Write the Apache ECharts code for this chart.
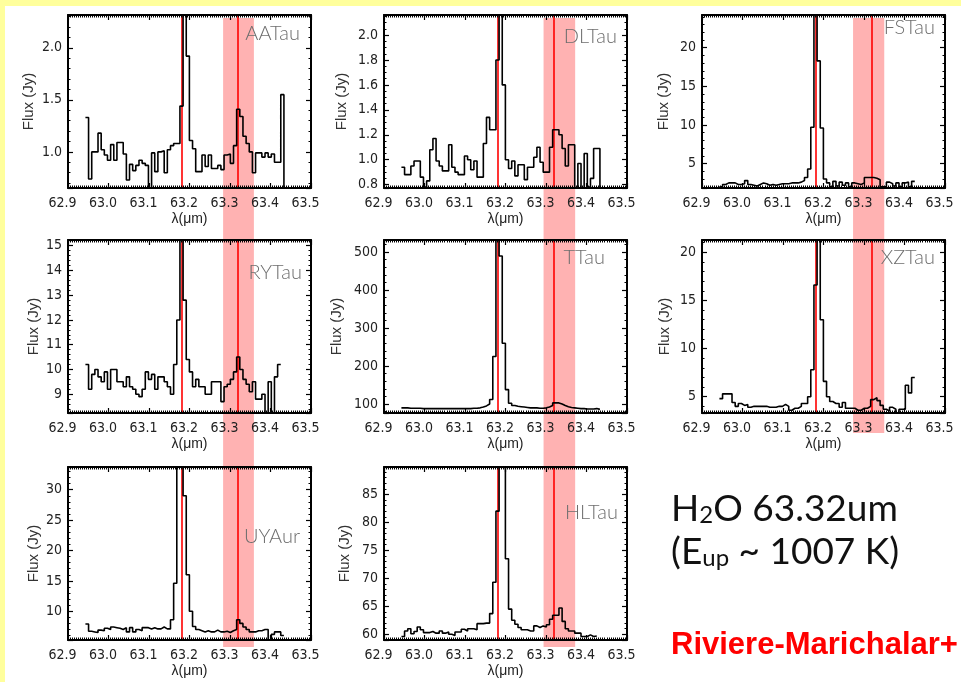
<!DOCTYPE html>
<html><head><meta charset="utf-8">
<script src="https://cdn.jsdelivr.net/npm/echarts@6/dist/echarts.min.js"></script>
<style>html,body{margin:0;padding:0;background:#fff;}#c{width:961px;height:682px;}</style>
</head><body><div id="c"></div>
<script>
// ---------------- DATA ----------------
const sources = ['AATau', 'DLTau', 'FSTau', 'RYTau', 'TTau', 'XZTau', 'UYAur', 'HLTau'];
const lambdaStart = 62.943;   // first bin edge (um)
const binWidth = 0.00778;     // spectral bin width (um)
const xMin = 62.9, xMax = 63.5, xStep = 0.1;
const lineCenters = [63.18, 63.32];          // [OI] 63.18 and H2O 63.32 markers
const bandRanges = [[63.283, 63.359], [63.294, 63.372], [63.273, 63.350]]; // shaded band per column

const fluxAATau = [1.33, 0.74, 1.00, 1.00, 1.18, 1.02, 0.97, 0.92, 1.07, 0.92,
  1.09, 1.09, 0.98, 0.73, 0.88, 0.82, 0.87, 0.92, 0.89, 0.87,
  0.60, 0.99, 0.81, 1.00, 1.01, 0.80, 1.02, 1.06, 1.08, 1.08,
  1.44, 2.60, 1.92, 1.11, 1.03, 0.81, 0.81, 0.97, 0.86, 0.97,
  0.84, 0.84, 0.87, 0.83, 0.97, 0.98, 0.89, 1.06, 1.41, 1.34,
  1.15, 1.08, 1.00, 0.80, 0.99, 0.99, 0.95, 0.99, 0.95, 0.98,
  0.90, 0.90, 1.55, 0.50];
const fluxDLTau = [0.94, 0.88, 0.88, 0.95, 0.99, 0.99, 0.86, 0.78, 0.83, 1.08,
  1.17, 0.99, 0.95, 0.91, 0.91, 1.12, 0.94, 0.90, 0.88, 0.88,
  1.03, 1.00, 0.92, 0.99, 0.86, 0.86, 1.13, 1.34, 1.24, 1.24,
  1.80, 2.40, 1.60, 1.00, 0.93, 0.99, 0.87, 0.96, 0.96, 0.84,
  0.94, 0.94, 1.02, 1.10, 0.98, 0.90, 0.90, 1.10, 1.24, 1.24,
  1.20, 1.09, 0.95, 1.12, 1.12, 0.75, 0.97, 0.76, 1.05, 0.78,
  0.85, 1.09, 1.09, 0.70];
const fluxFSTau = [2.0, 2.3, 2.5, 2.5, 2.5, 2.3, 2.3, 2.4, 2.8, 2.3,
  2.2, 2.1, 2.3, 2.5, 2.4, 2.2, 2.3, 2.2, 2.3, 2.4,
  2.4, 2.4, 2.5, 2.5, 2.5, 2.6, 2.8, 3.2, 4.3, 9.7,
  30.0, 18.3, 9.6, 3.0, 2.5, 2.0, 2.7, 2.1, 2.6, 2.2,
  2.5, 2.0, 2.5, 2.4, 2.3, 2.5, 3.2, 3.2, 3.2, 3.1,
  2.9, 2.0, 2.0, 2.6, 2.4, 2.1, 2.5, 2.0, 2.5, 2.6,
  2.0, 2.7];
const fluxRYTau = [10.2, 9.2, 9.8, 10.0, 9.7, 9.5, 9.9, 9.2, 10.0, 10.0,
  9.5, 9.5, 9.3, 9.7, 9.3, 9.2, 9.0, 8.9, 9.2, 9.9,
  9.6, 9.8, 9.2, 9.7, 9.7, 9.5, 9.3, 9.0, 10.2, 12.0,
  16.0, 12.8, 10.4, 9.9, 9.3, 9.6, 9.3, 9.3, 9.0, 9.0,
  9.5, 9.5, 9.5, 8.7, 9.3, 9.4, 9.6, 9.9, 10.5, 10.0,
  9.6, 9.4, 9.1, 9.5, 8.8, 8.8, 9.0, 8.1, 9.5, 8.1,
  9.7, 10.2];
const fluxTTau = [90, 90, 89, 89, 89, 89, 88, 88, 88, 88,
  88, 88, 88, 88, 88, 88, 88, 88, 88, 88,
  88, 88, 89, 89, 90, 92, 95, 100, 112, 225,
  620, 490, 260, 138, 102, 96, 94, 93, 92, 91,
  90, 90, 90, 89, 89, 90, 92, 96, 103, 103,
  100, 96, 93, 91, 90, 89, 88, 88, 87, 87,
  87, 88, 86];
const fluxXZTau = [4.8, 5.3, 5.3, 5.3, 4.4, 4.0, 4.3, 4.1, 4.2, 3.9,
  4.0, 4.0, 4.0, 4.0, 4.0, 3.9, 3.9, 3.9, 4.0, 4.0,
  4.2, 4.0, 3.6, 3.8, 3.8, 4.0, 4.3, 4.3, 5.0, 7.8,
  16.6, 25.0, 13.0, 6.6, 5.0, 4.5, 4.3, 4.3, 3.9, 4.4,
  3.8, 3.8, 3.8, 3.6, 3.6, 3.8, 3.8, 4.0, 4.7, 4.9,
  4.6, 4.1, 3.7, 3.5, 3.9, 3.7, 3.2, 3.7, 3.7, 6.2,
  5.4, 7.0];
const fluxUYAur = [7.9, 6.7, 6.6, 6.5, 6.9, 6.8, 7.2, 7.0, 7.4, 7.3,
  7.2, 7.0, 7.3, 6.6, 7.3, 6.6, 7.0, 6.8, 7.3, 7.3,
  7.1, 7.3, 7.1, 7.1, 7.4, 7.1, 7.1, 8.6, 14.6, 40.0,
  40.0, 29.0, 16.0, 10.0, 7.5, 7.0, 6.8, 6.6, 6.8, 6.6,
  6.6, 6.9, 6.6, 6.6, 6.7, 6.5, 6.8, 7.0, 8.6, 8.0,
  7.4, 7.0, 6.6, 6.6, 6.8, 6.8, 7.0, 7.0, 5.0, 6.2,
  6.6, 6.6, 6.0];
const fluxHLTau = [59.6, 60.6, 61.0, 60.1, 60.5, 61.3, 60.8, 60.3, 60.3, 60.5,
  60.2, 60.2, 60.6, 60.2, 60.4, 60.0, 59.8, 60.4, 60.4, 60.9,
  60.6, 61.0, 61.0, 60.8, 61.9, 61.9, 62.0, 62.0, 63.7, 69.3,
  82.0, 95.0, 95.0, 73.5, 64.5, 62.5, 61.8, 61.2, 60.8, 60.8,
  60.6, 60.6, 61.5, 61.2, 61.5, 61.3, 61.7, 62.7, 63.4, 63.4,
  64.7, 62.3, 61.0, 60.6, 60.6, 60.2, 60.2, 59.6, 59.6, 59.9,
  59.6, 59.7];
const fluxBySource = [fluxAATau, fluxDLTau, fluxFSTau, fluxRYTau, fluxTTau, fluxXZTau, fluxUYAur, fluxHLTau];

const yMin = [0.653, 0.773, 1.84, 8.24, 76.4, 3.31, 5.27, 58.98];
const yMax = [2.315, 2.161, 24.24, 15.23, 532, 21.28, 33.74, 89.89];
const yStep = [0.5, 0.2, 5, 1, 100, 5, 5, 5];
const yMinorSplit = [5, 4, 5, 5, 5, 5, 5, 5];

// ---------------- LAYOUT ----------------
const colLeft = [68, 384, 702];
const gridW = 243;
const rowTop = [15, 240, 467];
const gridH = 173;
const yNameGap = [32, 35, 31, 27, 40, 30, 27, 32];
const labelRight = [300, 617, 935, 302, 605, 935, 300, 618];
const labelY = [34, 37, 28, 273, 258, 258, 537, 513];
const bandTop = 18;
const bandBottom = [647, 647, 433];

const tickFont = "'Liberation Sans Narrow', 'DejaVu Sans Condensed', 'Liberation Sans', sans-serif";
const nameFont = "'Liberation Sans', 'DejaVu Sans', sans-serif";

const grids = [], xAxes = [], yAxes = [], series = [], graphics = [];

function stepData(vals) {
  const d = vals.map((v, i) => [lambdaStart + i * binWidth, v]);
  d.push([lambdaStart + vals.length * binWidth, vals[vals.length - 1]]);
  return d;
}

sources.forEach((name, p) => {
  const c = p % 3, r = Math.floor(p / 3);
  grids.push({ left: colLeft[c], top: rowTop[r], width: gridW, height: gridH, outerBoundsMode: 'none', containLabel: false });
  const baseX = {
    type: 'value', gridIndex: p, min: xMin, max: xMax, interval: xStep, z: 5,
    axisLine: { show: true, onZero: false, lineStyle: { color: '#000', width: 2 } },
    axisTick: { show: true, inside: true, length: 5, lineStyle: { color: '#000', width: 1.2 } },
    minorTick: { show: true, splitNumber: 20, length: 2.5, lineStyle: { color: '#000', width: 1 } },
    splitLine: { show: false }, minorSplitLine: { show: false }
  };
  xAxes.push(Object.assign({}, baseX, {
    position: 'bottom',
    axisLabel: { show: true, margin: 8, fontSize: 14, color: '#222', fontFamily: tickFont,
      showMinLabel: true, showMaxLabel: true, padding: [0, 11, 0, 0],
      formatter: v => v.toFixed(1) },
    name: 'λ(μm)', nameLocation: 'middle', nameGap: 24,
    nameTextStyle: { fontSize: 14, color: '#222', fontFamily: nameFont }
  }));
  xAxes.push(Object.assign({}, baseX, { position: 'top', axisLabel: { show: false } }));

  const step = yStep[p];
  const dec = step < 1 ? 1 : 0;
  const baseY = {
    type: 'value', gridIndex: p, min: yMin[p], max: yMax[p], minInterval: step, maxInterval: step, z: 5,
    axisLine: { show: true, onZero: false, lineStyle: { color: '#000', width: 2 } },
    axisTick: { show: true, inside: true, length: 5, lineStyle: { color: '#000', width: 1.2 } },
    minorTick: { show: true, splitNumber: yMinorSplit[p], length: 2.5, lineStyle: { color: '#000', width: 1 } },
    splitLine: { show: false }, minorSplitLine: { show: false }
  };
  yAxes.push(Object.assign({}, baseY, {
    position: 'left',
    axisLabel: { show: true, margin: 6, fontSize: 14, color: '#222', fontFamily: tickFont,
      formatter: v => { const k = v / step; return Math.abs(k - Math.round(k)) < 1e-6 ? v.toFixed(dec) : ''; } },
    name: 'Flux (Jy)', nameLocation: 'middle', nameGap: yNameGap[p], nameRotate: 90,
    nameTextStyle: { fontSize: 15, color: '#333', fontFamily: nameFont }
  }));
  yAxes.push(Object.assign({}, baseY, { position: 'right', axisLabel: { show: false } }));

  series.push({
    type: 'line', name: name, xAxisIndex: 2 * p, yAxisIndex: 2 * p, step: 'end',
    data: stepData(fluxBySource[p]), symbol: 'none', showSymbol: false, clip: true, z: 6,
    lineStyle: { color: '#000', width: 1.6 }, animation: false,
    markLine: {
      silent: true, symbol: ['none', 'none'], label: { show: false }, animation: false,
      lineStyle: { color: '#ff0000', width: 1.6, type: 'solid' },
      data: lineCenters.map(x => ({ xAxis: x }))
    }
  });

  graphics.push({
    type: 'text', z: 20, silent: true,
    style: { text: name, x: labelRight[p], y: labelY[p], align: 'right', textAlign: 'right',
      verticalAlign: 'middle', textVerticalAlign: 'middle',
      font: "300 20px Lato, 'DejaVu Sans', sans-serif", fill: '#6e6e6e' }
  });
});

// shaded band grids (one per column, spanning the stacked panels)
bandRanges.forEach((b, c) => {
  const gi = grids.length;
  grids.push({ left: colLeft[c], top: bandTop, width: gridW, height: bandBottom[c] - bandTop, outerBoundsMode: 'none', containLabel: false });
  xAxes.push({ type: 'value', gridIndex: gi, min: xMin, max: xMax, show: false });
  yAxes.push({ type: 'value', gridIndex: gi, min: 0, max: 1, show: false });
  series.push({
    type: 'line', xAxisIndex: xAxes.length - 1, yAxisIndex: yAxes.length - 1, data: [], z: 1,
    symbol: 'none', animation: false,
    markArea: { silent: true, animation: false, itemStyle: { color: '#ffb2b2' }, data: [[{ xAxis: b[0] }, { xAxis: b[1] }]] }
  });
});

// slide frame and annotation text
graphics.push({ type: 'rect', z: 0, silent: true, shape: { x: 0, y: 0, width: 961, height: 6 }, style: { fill: '#ffff9c' } });
graphics.push({ type: 'rect', z: 0, silent: true, shape: { x: 0, y: 0, width: 5, height: 682 }, style: { fill: '#ffff9c' } });
graphics.push({
  type: 'text', z: 20, silent: true,
  style: { x: 671, y: 509, text: '{a|H}{s|2}{a|O 63.32um}', verticalAlign: 'middle', textVerticalAlign: 'middle',
    rich: { a: { fontSize: 37, fontFamily: 'Lato', fill: '#111' }, s: { fontSize: 24, fontFamily: 'Lato', fill: '#111', verticalAlign: 'bottom' } } }
});
graphics.push({
  type: 'text', z: 20, silent: true,
  style: { x: 671, y: 552, text: '{a|(E}{s|up}{a| ~ 1007 K)}', verticalAlign: 'middle', textVerticalAlign: 'middle',
    rich: { a: { fontSize: 37, fontFamily: 'Lato', fill: '#111' }, s: { fontSize: 24, fontFamily: 'Lato', fill: '#111', verticalAlign: 'bottom' } } }
});
graphics.push({
  type: 'text', z: 20, silent: true,
  style: { x: 671, y: 645, text: 'Riviere-Marichalar+', verticalAlign: 'middle', textVerticalAlign: 'middle',
    font: "bold 31px 'Liberation Sans', Arial, sans-serif", fill: '#ff0000' }
});

const chart = echarts.init(document.getElementById('c'), null, { renderer: 'canvas' });
chart.setOption({
  animation: false,
  backgroundColor: '#ffffff',
  grid: grids, xAxis: xAxes, yAxis: yAxes, series: series, graphic: graphics
});
</script></body></html>
